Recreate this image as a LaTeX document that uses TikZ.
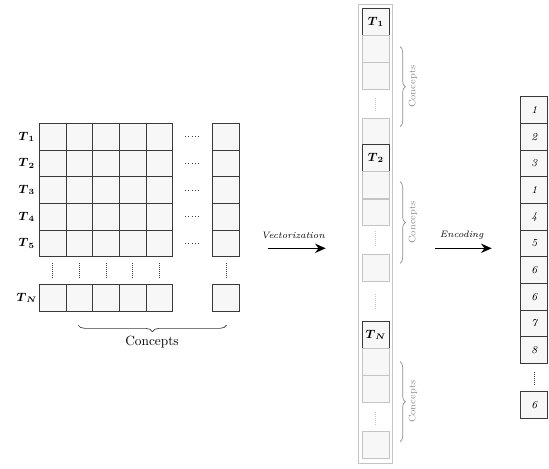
\documentclass[tikz,border=0pt]{standalone}
\usepackage{amsmath}
\usetikzlibrary{arrows.meta,decorations.pathreplacing}
\definecolor{cellfill}{HTML}{F7F7F7}
\definecolor{darkline}{HTML}{3A3A3A}
\definecolor{softline}{HTML}{C4C4C4}
\definecolor{softtext}{HTML}{8C8C8C}
\tikzset{
  cell/.style={draw=darkline, fill=cellfill, line width=0.6pt, minimum width=20pt, minimum height=20pt, inner sep=0pt, outer sep=0pt},
  vcell/.style={draw=softline, fill=cellfill, line width=0.6pt, minimum width=20pt, minimum height=20pt, inner sep=0pt},
  tcell/.style={draw=darkline, fill=cellfill, line width=0.8pt, minimum width=20pt, minimum height=20pt, inner sep=0pt},
  ncell/.style={cell, font=\footnotesize\itshape},
  rowlabel/.style={inner sep=0pt, font=\small},
  hdots/.style={dotted, draw=darkline, line width=0.5pt},
  vdots/.style={densely dotted, draw=darkline, line width=0.5pt},
  softdots/.style={densely dotted, draw=softline, line width=0.5pt},
  flow/.style={line width=1pt, -{Stealth[length=8pt,width=7pt]}},
  bigbrace/.style={decorate, decoration={brace, amplitude=5pt}, draw=darkline, line width=0.5pt},
  smallbrace/.style={decorate, decoration={brace, amplitude=4pt}, draw=softtext, line width=0.5pt},
  steplabel/.style={font=\scriptsize\itshape, inner sep=1pt}
}
\newcommand{\Tlab}[1]{$\boldsymbol{T}_{\boldsymbol{#1}}$}
\begin{document}
\begin{tikzpicture}[x=0.75pt, y=-0.75pt]
\useasboundingbox (0,0) rectangle (549,468);

% ---- document/concept matrix ----
\foreach \r/\y/\lab in {1/136.7/1, 2/163.3/2, 3/190/3, 4/216.7/4, 5/243.3/5} {
  \node[rowlabel] (lab\r) at (26.7,\y) {\Tlab{\lab}};
  \foreach \c/\x in {1/52.7, 2/79.3, 3/106, 4/132.7, 5/159.3} {
    \node[cell] (g\r-\c) at (\x,\y) {};
  }
  \node[cell] (g\r-l) at (226,\y) {};
  \draw[hdots] (185,\y) -- (201,\y);
}
\node[rowlabel] (labN) at (26.7,297.7) {\Tlab{N}};
\foreach \c/\x in {1/52.7, 2/79.3, 3/106, 4/132.7, 5/159.3} {
  \node[cell] (gN-\c) at (\x,297.7) {};
  \draw[vdots] (\x,263) -- (\x,278);
}
\node[cell] (gN-l) at (226,297.7) {};
\draw[vdots] (226,263) -- (226,278);

% brace under the columns
\coordinate (bl) at (78,325);
\coordinate (br) at (226.7,325);
\draw[bigbrace] (br) -- (bl);
\node (concepts) at (152,342) {Concepts};

% ---- vectorization arrow ----
\coordinate (v0) at (267.7,248.3);
\coordinate (v1) at (325.7,248.3);
\draw[flow] (v0) -- (v1);
\node[steplabel] (vlab) at (293,235) {Vectorization};

% ---- vector column ----
\node[draw=softline, line width=0.6pt, minimum width=25.8pt, minimum height=344.3pt, inner sep=0pt] (vec) at (375.5,233.8) {};
\node[tcell] (vT1) at (375.8,22) {};
\node[rowlabel] (vT1lab) at (vT1.center) {\Tlab{1}};
\node[vcell] (v1a) at (375.8,49) {};
\node[vcell] (v1b) at (375.8,75.7) {};
\draw[softdots] (375.8,98) -- (375.8,111);
\node[vcell] (v1z) at (375.8,131.3) {};
\node[tcell] (vT2) at (375.8,157.8) {};
\node[rowlabel] (vT2lab) at (vT2.center) {\Tlab{2}};
\node[vcell] (v2a) at (375.8,185.2) {};
\node[vcell] (v2b) at (375.8,212.3) {};
\draw[softdots] (375.8,231) -- (375.8,246);
\node[vcell] (v2z) at (375.8,268) {};
\draw[softdots] (375.8,294) -- (375.8,309);
\node[tcell] (vTN) at (375.8,334.7) {};
\node[rowlabel] (vTNlab) at (vTN.center) {\Tlab{N}};
\node[vcell] (vNa) at (375.8,361.7) {};
\node[vcell] (vNb) at (375.8,388.7) {};
\draw[softdots] (375.8,412) -- (375.8,425);
\node[vcell] (vNz) at (375.8,444.7) {};

% braces beside each block of concepts
\foreach \k/\top/\bot in {1/46.7/126.7, 2/181.7/263.3, 3/361.7/441.7} {
  \coordinate (bt\k) at (400,\top);
  \coordinate (bb\k) at (400,\bot);
  \draw[smallbrace] (bt\k) -- (bb\k);
  \node[rotate=90, font=\scriptsize, text=softtext, inner sep=0pt] (bc\k) at (413,{(\top+\bot)/2}) {Concepts};
}

% ---- encoding arrow ----
\coordinate (e0) at (435,248.3);
\coordinate (e1) at (491.7,248.3);
\draw[flow] (e0) -- (e1);
\node[steplabel] (elab) at (461.7,235) {Encoding};

% ---- encoded column ----
\foreach \i/\y/\val in {1/110/1, 2/136.7/2, 3/163.3/3, 4/190/1, 5/216.7/4, 6/243.3/5, 7/270/6, 8/296.7/6, 9/323.3/7, 10/350/8} {
  \node[ncell] (e\i) at (534.2,\y) {\val};
}
\draw[vdots] (534.2,372) -- (534.2,385);
\node[ncell] (eN) at (534.2,405) {6};
\end{tikzpicture}
\end{document}
